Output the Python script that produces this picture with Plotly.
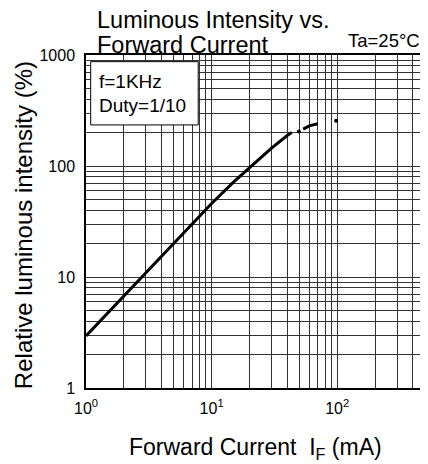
import plotly.graph_objects as go

# Data
current_main = [1, 2, 3, 5, 10, 15, 20, 30, 40, 43.5]
intensity_main = [2.94, 6.75, 10.9, 20.2, 46, 72, 97, 145, 188, 200]
current_dot1 = [49.5]
intensity_dot1 = [205]
current_dash = [53.5, 60, 70]
intensity_dash = [215, 230, 240]
current_dot2 = [98]
intensity_dot2 = [255]

x_tickvals = [1, 10, 100]
x_ticktext = ["10<sup>0</sup>", "10<sup>1</sup>", "10<sup>2</sup>"]
y_tickvals = [1, 10, 100, 1000]
y_ticktext = ["1", "10", "100", "1000"]

FONT = "Liberation Sans, Arial, sans-serif"
GRID = "#333333"

fig = go.Figure()
fig.add_trace(go.Scatter(x=current_main, y=intensity_main, mode="lines",
                         line=dict(color="black", width=3), showlegend=False))
fig.add_trace(go.Scatter(x=current_dash, y=intensity_dash, mode="lines",
                         line=dict(color="black", width=3), showlegend=False))
fig.add_trace(go.Scatter(x=current_dot1 + current_dot2, y=intensity_dot1 + intensity_dot2,
                         mode="markers", marker=dict(color="black", size=4),
                         showlegend=False))

axis_common = dict(
    type="log",
    showline=True, linecolor="black", linewidth=1.5, mirror=True,
    showgrid=True, gridcolor=GRID, gridwidth=1,
    ticks="", zeroline=False,
    tickfont=dict(family=FONT, size=16, color="black"),
    minor=dict(dtick="D1", showgrid=True, gridcolor=GRID, gridwidth=1, ticks=""),
)

fig.update_xaxes(range=[0, 2.69897], tickvals=x_tickvals, ticktext=x_ticktext,
                 ticklabelstandoff=5, **axis_common)
fig.update_yaxes(range=[0, 3], tickvals=y_tickvals, ticktext=y_ticktext,
                 ticklabelstandoff=6, **axis_common)

# page body has an 8px margin, so the figure is 8px smaller and shifted
fig.update_layout(
    width=420, height=456,
    margin=dict(l=78, r=1, t=47, b=76),
    paper_bgcolor="white", plot_bgcolor="white",
    font=dict(family=FONT, color="black"),
    shapes=[dict(type="rect", xref="paper", yref="paper",
                 x0=0.0138, x1=0.331, y0=0.790, y1=0.980,
                 fillcolor="white", line=dict(color="black", width=1), layer="above")],
)

ann = [
    dict(text="Luminous Intensity vs.", x=0.026, y=1.104, xanchor="left", yanchor="middle", size=23.5),
    dict(text="Forward Current", x=0.026, y=1.029, xanchor="left", yanchor="middle", size=23.5),
    dict(text="Ta=25°C", x=0.992, y=1.043, xanchor="right", yanchor="middle", size=18.5),
    dict(text="f=1KHz", x=0.032, y=0.919, xanchor="left", yanchor="middle", size=19),
    dict(text="Duty=1/10", x=0.032, y=0.847, xanchor="left", yanchor="middle", size=19),
    dict(text="Forward Current  I<sub>F</sub> (mA)", x=0.5, y=-0.183, xanchor="center", yanchor="middle", size=23),
]
for a in ann:
    fig.add_annotation(text=a["text"], x=a["x"], y=a["y"], xref="paper", yref="paper",
                       xanchor=a["xanchor"], yanchor=a["yanchor"], showarrow=False,
                       font=dict(family=FONT, size=a["size"], color="black"))
fig.add_annotation(text="Relative luminous intensity (%)", x=-0.182, y=0.49,
                   xref="paper", yref="paper", textangle=-90, showarrow=False,
                   xanchor="center", yanchor="middle",
                   font=dict(family=FONT, size=24, color="black"))

fig.write_html("out.html")
